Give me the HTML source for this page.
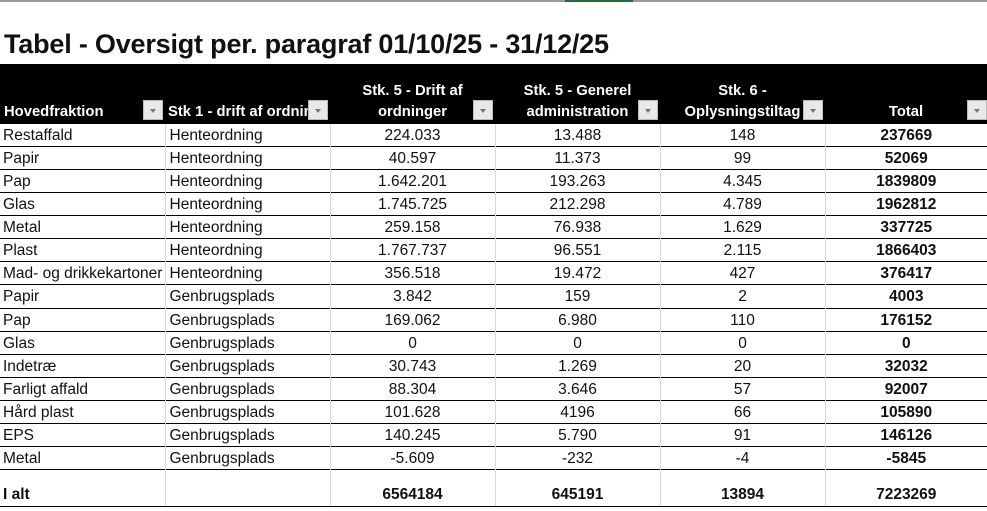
<!DOCTYPE html>
<html><head><meta charset="utf-8"><style>
*{margin:0;padding:0;box-sizing:border-box}
body{width:987px;height:511px;background:#fff;position:relative;overflow:hidden;font-family:"Liberation Sans",Arial,sans-serif;color:#111}
.topline{position:absolute;left:0;top:0;width:987px;height:2px;background:#9a9a9a}
.green{position:absolute;left:565px;top:0;width:68px;height:2px;background:#1e6b3c}
.title{position:absolute;left:4px;top:29px;font-size:27px;font-weight:bold;letter-spacing:-0.2px;white-space:nowrap}
.hdr{position:absolute;left:0;top:64px;width:987px;height:59px;background:#000}
.h{position:absolute;color:#fff;font-weight:bold;font-size:14.8px;line-height:21px;text-align:center}
.fb{position:absolute;top:100px;width:20px;height:20px;background:#e8e8e8;border:1px solid #bbb}
.fb:after{content:"";position:absolute;left:6px;top:8px;border-left:3px solid transparent;border-right:3px solid transparent;border-top:4px solid #777}
table{position:absolute;left:0;top:123px;width:987px;border-collapse:collapse;table-layout:fixed;font-size:15.5px}
td{height:23.07px;border-top:1.3px solid #000;border-left:1px solid #d8d8d8;padding:1px 4px 0;white-space:nowrap;overflow:hidden;line-height:21px}
td:first-child{border-left:none;padding-left:3px;padding-right:0}
td.c{text-align:center}
td.b{font-weight:bold}
tr.last td{height:37px;vertical-align:bottom;font-weight:bold;border-bottom:1.3px solid #000;padding-bottom:1px}
</style></head><body>
<div class="topline"></div><div class="green"></div>
<div class="title">Tabel - Oversigt per. paragraf 01/10/25 - 31/12/25</div>
<div class="hdr"></div>
<div class="h" style="left:4px;top:102px;text-align:left">Hovedfraktion</div>
<div class="h" style="left:168px;top:102px;text-align:left;width:140px;overflow:hidden;white-space:nowrap">Stk 1 - drift af ordninger</div>
<div class="h" style="left:330px;top:81px;width:165px">Stk. 5 - Drift af<br>ordninger</div>
<div class="h" style="left:495px;top:81px;width:165px">Stk. 5 - Generel<br>administration</div>
<div class="h" style="left:660px;top:81px;width:165px">Stk. 6 -<br>Oplysningstiltag</div>
<div class="h" style="left:825px;top:102px;width:162px">Total</div>
<div class="fb" style="left:143px"></div>
<div class="fb" style="left:308px"></div>
<div class="fb" style="left:473px"></div>
<div class="fb" style="left:638px"></div>
<div class="fb" style="left:803px"></div>
<div class="fb" style="left:967px"></div>
<table>
<colgroup><col style="width:165px"><col style="width:165px"><col style="width:165px"><col style="width:165px"><col style="width:165px"><col style="width:162px"></colgroup>
<tr><td>Restaffald</td><td>Henteordning</td><td class="c">224.033</td><td class="c">13.488</td><td class="c">148</td><td class="c b">237669</td></tr>
<tr><td>Papir</td><td>Henteordning</td><td class="c">40.597</td><td class="c">11.373</td><td class="c">99</td><td class="c b">52069</td></tr>
<tr><td>Pap</td><td>Henteordning</td><td class="c">1.642.201</td><td class="c">193.263</td><td class="c">4.345</td><td class="c b">1839809</td></tr>
<tr><td>Glas</td><td>Henteordning</td><td class="c">1.745.725</td><td class="c">212.298</td><td class="c">4.789</td><td class="c b">1962812</td></tr>
<tr><td>Metal</td><td>Henteordning</td><td class="c">259.158</td><td class="c">76.938</td><td class="c">1.629</td><td class="c b">337725</td></tr>
<tr><td>Plast</td><td>Henteordning</td><td class="c">1.767.737</td><td class="c">96.551</td><td class="c">2.115</td><td class="c b">1866403</td></tr>
<tr><td>Mad- og drikkekartoner</td><td>Henteordning</td><td class="c">356.518</td><td class="c">19.472</td><td class="c">427</td><td class="c b">376417</td></tr>
<tr><td>Papir</td><td>Genbrugsplads</td><td class="c">3.842</td><td class="c">159</td><td class="c">2</td><td class="c b">4003</td></tr>
<tr><td>Pap</td><td>Genbrugsplads</td><td class="c">169.062</td><td class="c">6.980</td><td class="c">110</td><td class="c b">176152</td></tr>
<tr><td>Glas</td><td>Genbrugsplads</td><td class="c">0</td><td class="c">0</td><td class="c">0</td><td class="c b">0</td></tr>
<tr><td>Indetræ</td><td>Genbrugsplads</td><td class="c">30.743</td><td class="c">1.269</td><td class="c">20</td><td class="c b">32032</td></tr>
<tr><td>Farligt affald</td><td>Genbrugsplads</td><td class="c">88.304</td><td class="c">3.646</td><td class="c">57</td><td class="c b">92007</td></tr>
<tr><td>Hård plast</td><td>Genbrugsplads</td><td class="c">101.628</td><td class="c">4196</td><td class="c">66</td><td class="c b">105890</td></tr>
<tr><td>EPS</td><td>Genbrugsplads</td><td class="c">140.245</td><td class="c">5.790</td><td class="c">91</td><td class="c b">146126</td></tr>
<tr><td>Metal</td><td>Genbrugsplads</td><td class="c">-5.609</td><td class="c">-232</td><td class="c">-4</td><td class="c b">-5845</td></tr>
<tr class="last"><td>I alt</td><td></td><td class="c">6564184</td><td class="c">645191</td><td class="c">13894</td><td class="c">7223269</td></tr>
</table>
</body></html>
